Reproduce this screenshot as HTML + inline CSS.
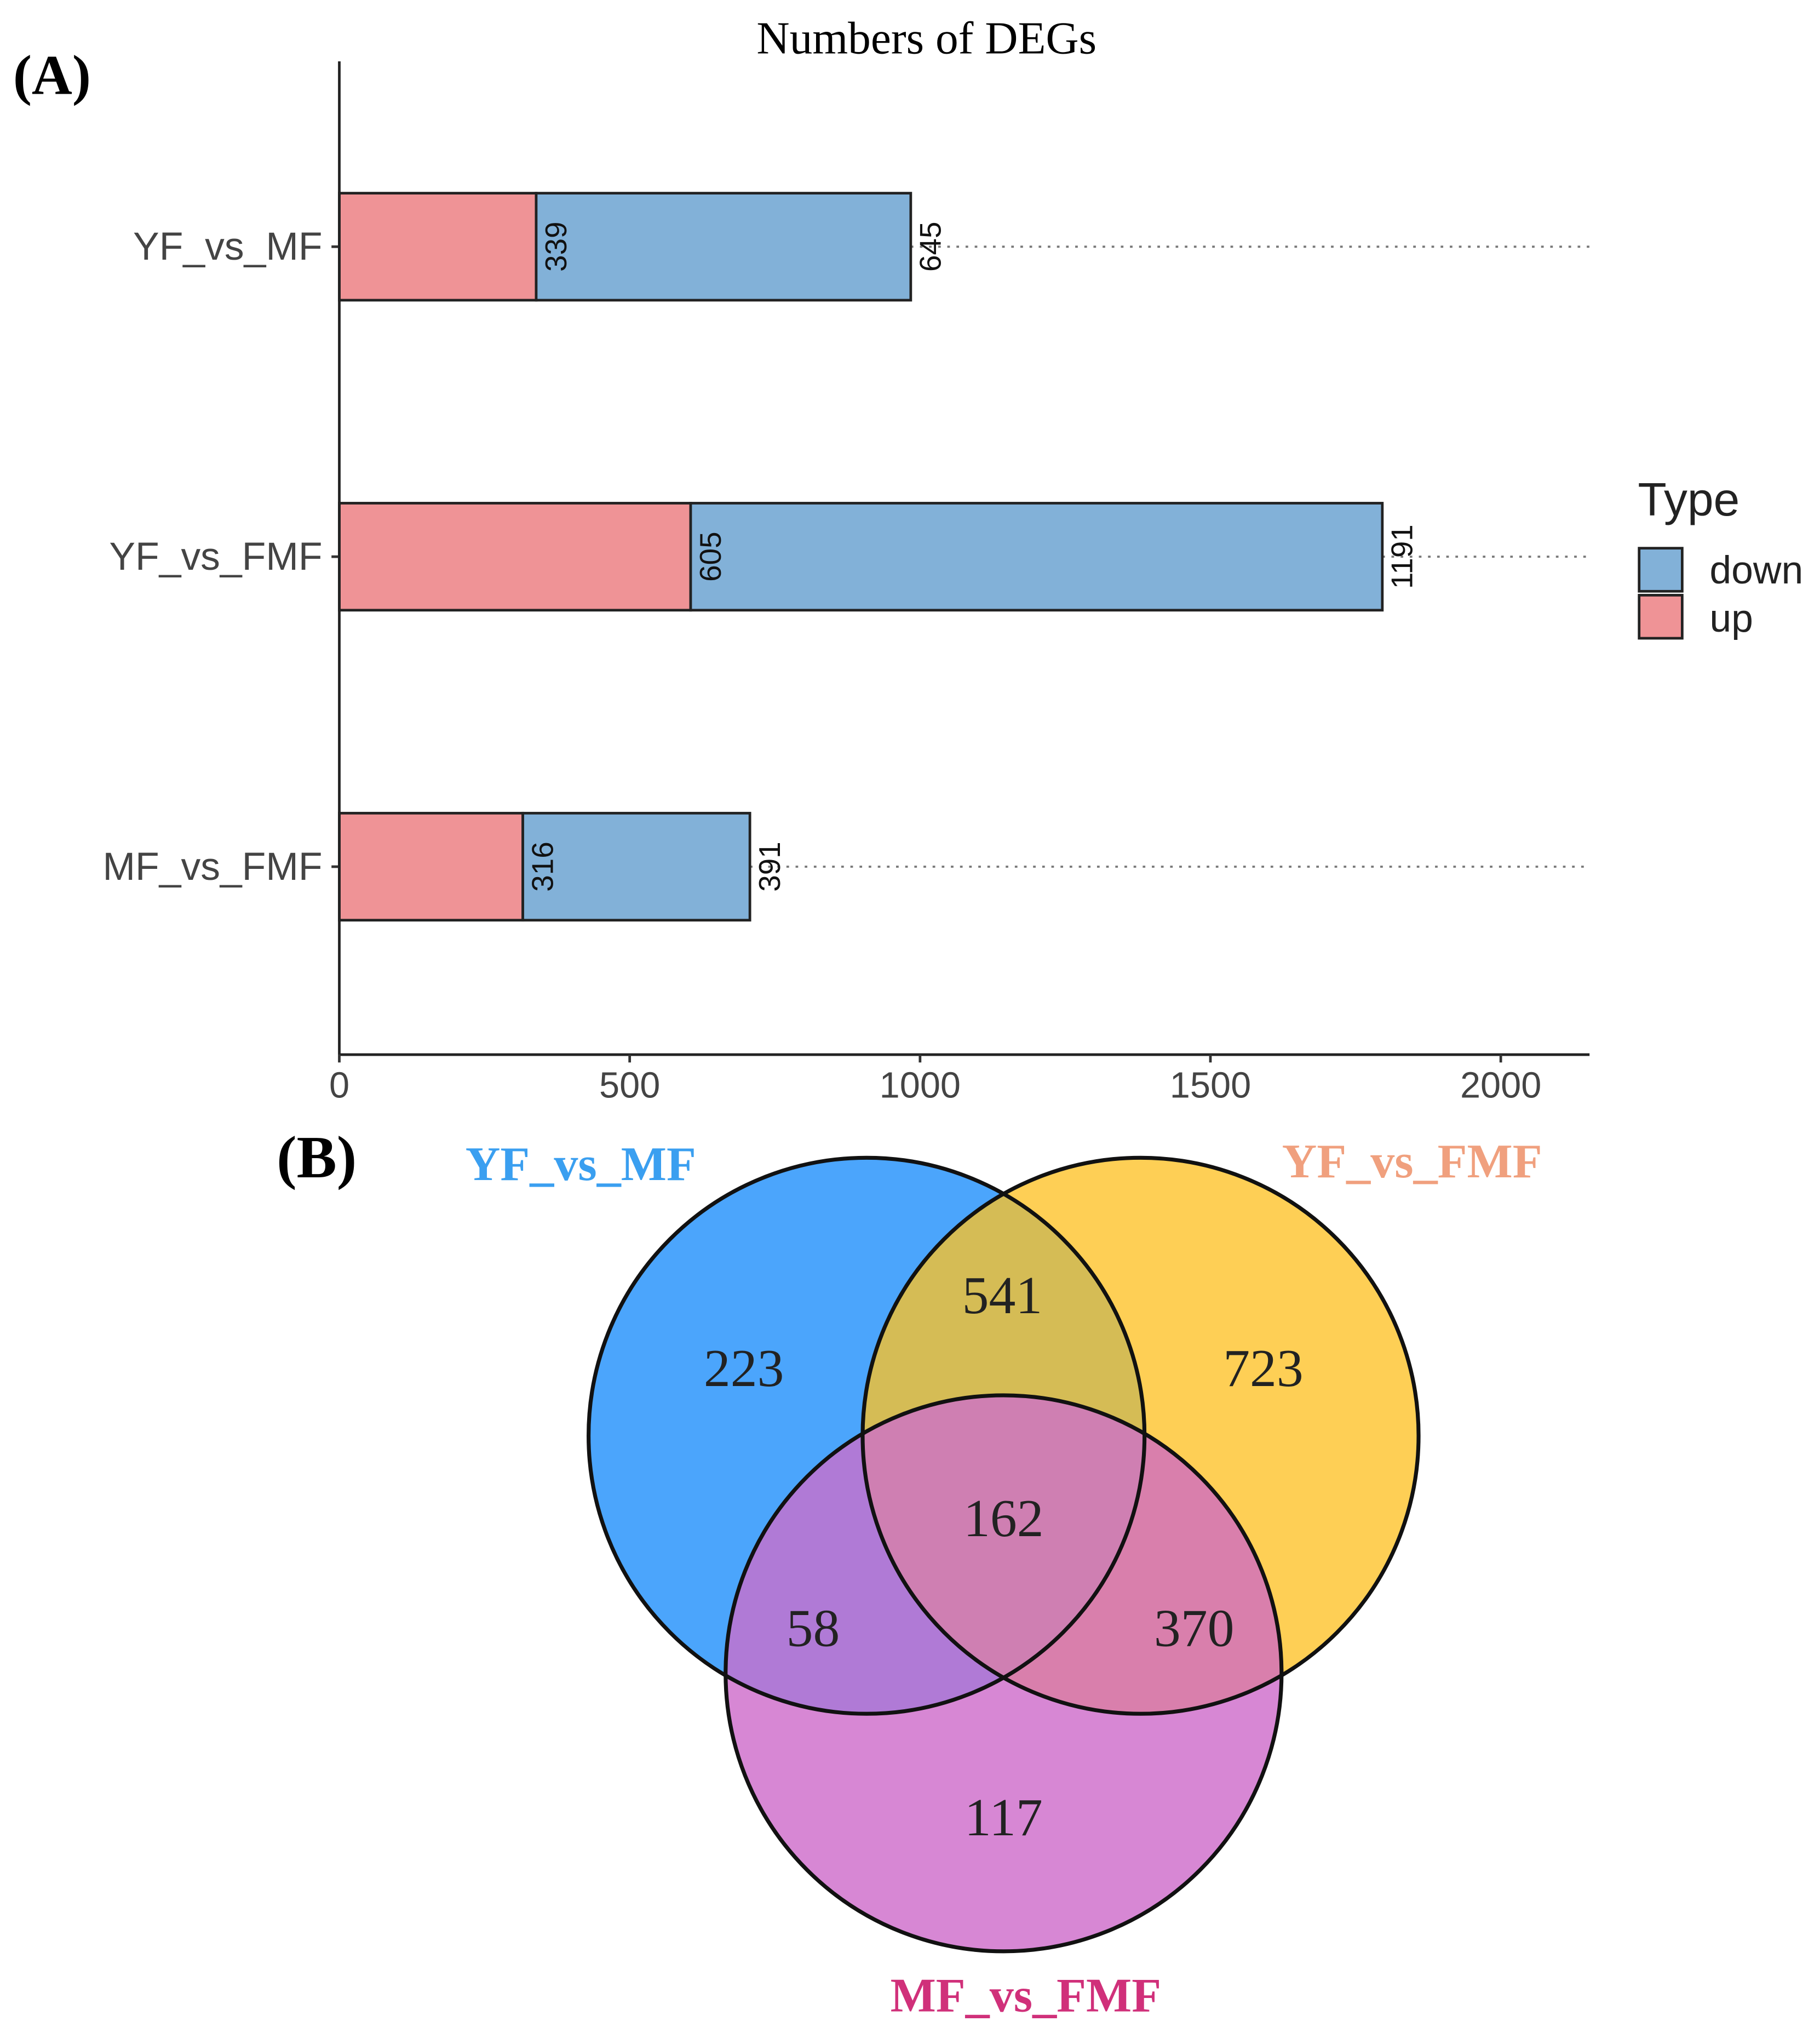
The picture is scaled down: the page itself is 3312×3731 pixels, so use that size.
<!DOCTYPE html>
<html><head><meta charset="utf-8"><style>
html,body{margin:0;padding:0;background:#fff;}
svg{display:block;}
</style></head><body>
<svg id="fig" xmlns="http://www.w3.org/2000/svg" width="3312" height="3731" viewBox="0 0 1390 1566" preserveAspectRatio="none">
<rect width="1390" height="1566" fill="#fff"/>
<text x="10" y="72" font-family="Liberation Serif, serif" font-weight="bold" font-size="43">(A)</text>
<text x="710" y="41" text-anchor="middle" font-family="Liberation Serif, serif" font-size="35">Numbers of DEGs</text>
<g id="plot"></g>
<g>
<text x="1255" y="395" font-family="Liberation Sans, sans-serif" font-size="36" fill="#222">Type</text>
<rect x="1256" y="420" width="33" height="33" fill="#82b1d8" stroke="#222" stroke-width="2"/>
<text x="1310" y="447" font-family="Liberation Sans, sans-serif" font-size="30" fill="#222">down</text>
<rect x="1256" y="456" width="33" height="33" fill="#ef9396" stroke="#222" stroke-width="2"/>
<text x="1310" y="484" font-family="Liberation Sans, sans-serif" font-size="30" fill="#222">up</text>
</g>
<text x="212" y="902" font-family="Liberation Serif, serif" font-weight="bold" font-size="46">(B)</text>
<g>
<defs>
<clipPath id="cb"><circle cx="664" cy="1100" r="213"/></clipPath>
<clipPath id="cy"><circle cx="874" cy="1100" r="213"/></clipPath>
<clipPath id="cp"><circle cx="769" cy="1282" r="213"/></clipPath>
</defs>
<circle cx="664" cy="1100" r="213" fill="#4ba5fc"/>
<circle cx="874" cy="1100" r="213" fill="#fecf55"/>
<circle cx="769" cy="1282" r="213" fill="#d787d4"/>
<g clip-path="url(#cb)"><circle cx="874" cy="1100" r="213" fill="#d5bc55"/><circle cx="769" cy="1282" r="213" fill="#b07ad6"/></g>
<g clip-path="url(#cy)"><circle cx="769" cy="1282" r="213" fill="#d97fac"/></g>
<g clip-path="url(#cb)"><g clip-path="url(#cy)"><circle cx="769" cy="1282" r="213" fill="#cf7fb2"/></g></g>
<g fill="none" stroke="#111" stroke-width="3">
<circle cx="664" cy="1100" r="213"/><circle cx="874" cy="1100" r="213"/><circle cx="769" cy="1282" r="213"/>
</g>
<g id="vennNums" font-family="Liberation Serif, serif" font-size="41" fill="#222" text-anchor="middle"></g>
<text x="445" y="904" text-anchor="middle" font-family="Liberation Serif, serif" font-weight="bold" font-size="37" fill="#3a9ff0">YF_vs_MF</text>
<text x="1082" y="902" text-anchor="middle" font-family="Liberation Serif, serif" font-weight="bold" font-size="37" fill="#f0a07e">YF_vs_FMF</text>
<text x="786" y="1541" text-anchor="middle" font-family="Liberation Serif, serif" font-weight="bold" font-size="37" fill="#d0307a">MF_vs_FMF</text>
</g>
</svg>
<script>
const categories = ["YF_vs_MF", "YF_vs_FMF", "MF_vs_FMF"];
const upValues = [339, 605, 316];
const downValues = [645, 1191, 391];
const xTicks = [0, 500, 1000, 1500, 2000];
const vennCounts = [223, 541, 723, 162, 58, 370, 117];

const NS = "http://www.w3.org/2000/svg";
const plot = document.getElementById("plot");
const x0 = 260, xPerUnit = (1150 - 260) / 2000;
const xs = v => x0 + v * xPerUnit;
const yTop = 47, yBottom = 808, xRight = 1218;
const catY = i => 189 + i * 237.5;
const barH = 82;
function mk(tag, attrs, parent) {
  const e = document.createElementNS(NS, tag);
  for (const k in attrs) e.setAttribute(k, attrs[k]);
  (parent || plot).appendChild(e);
  return e;
}
categories.forEach((c, i) => {
  const cy = catY(i);
  const total = upValues[i] + downValues[i];
  const dl = mk("line", {x1: xs(total), x2: xRight, y1: cy, y2: cy, stroke: "#777", "stroke-width": 1.6, "stroke-dasharray": "2,5"});
  
  
  const up = mk("rect", {x: xs(0), y: cy - barH/2, width: xs(upValues[i]) - xs(0), height: barH, fill: "#ef9396", stroke: "#222", "stroke-width": 2});
  
  
  const dn = mk("rect", {x: xs(upValues[i]), y: cy - barH/2, width: xs(total) - xs(upValues[i]), height: barH, fill: "#82b1d8", stroke: "#222", "stroke-width": 2});
  
  
  [[upValues[i], upValues[i]], [total, downValues[i]]].forEach(([pos, val]) => {
    const tx = xs(pos) + 15, t = mk("text", {transform: `translate(${tx},${cy}) rotate(-90)`, "text-anchor": "middle", "font-family": "Liberation Sans, sans-serif", "font-size": 23, fill: "#111"});
    
    
    t.setAttribute("dy", "8");
    t.textContent = val;
  });
  const lab = mk("text", {x: 247, y: cy + 10, "text-anchor": "end", "font-family": "Liberation Sans, sans-serif", "font-size": 30, fill: "#444"});
  
  
  lab.textContent = c;
  mk("line", {x1: 254, x2: 260, y1: cy, y2: cy, stroke: "#333", "stroke-width": 2});
});
const ya = mk("line", {x1: x0, x2: x0, y1: yTop, y2: yBottom, stroke: "#222", "stroke-width": 2});


const xa = mk("line", {x1: x0, x2: xRight, y1: yBottom, y2: yBottom, stroke: "#222", "stroke-width": 2});


xTicks.forEach(v => {
  mk("line", {x1: xs(v), x2: xs(v), y1: yBottom, y2: yBottom + 6, stroke: "#333", "stroke-width": 2});
  const t = mk("text", {x: xs(v), y: 841, "text-anchor": "middle", "font-family": "Liberation Sans, sans-serif", "font-size": 28, fill: "#444"});
  
  
  t.textContent = v;
});
const vennPos = [[570,1062],[768,1006],[968,1062],[769,1177],[623,1261],[915,1261],[769,1406]];
const vg = document.getElementById("vennNums");
vennCounts.forEach((n, i) => {
  const t = mk("text", {x: vennPos[i][0], y: vennPos[i][1]}, vg);
  
  
  t.textContent = n;
});
</script>
</body></html>
